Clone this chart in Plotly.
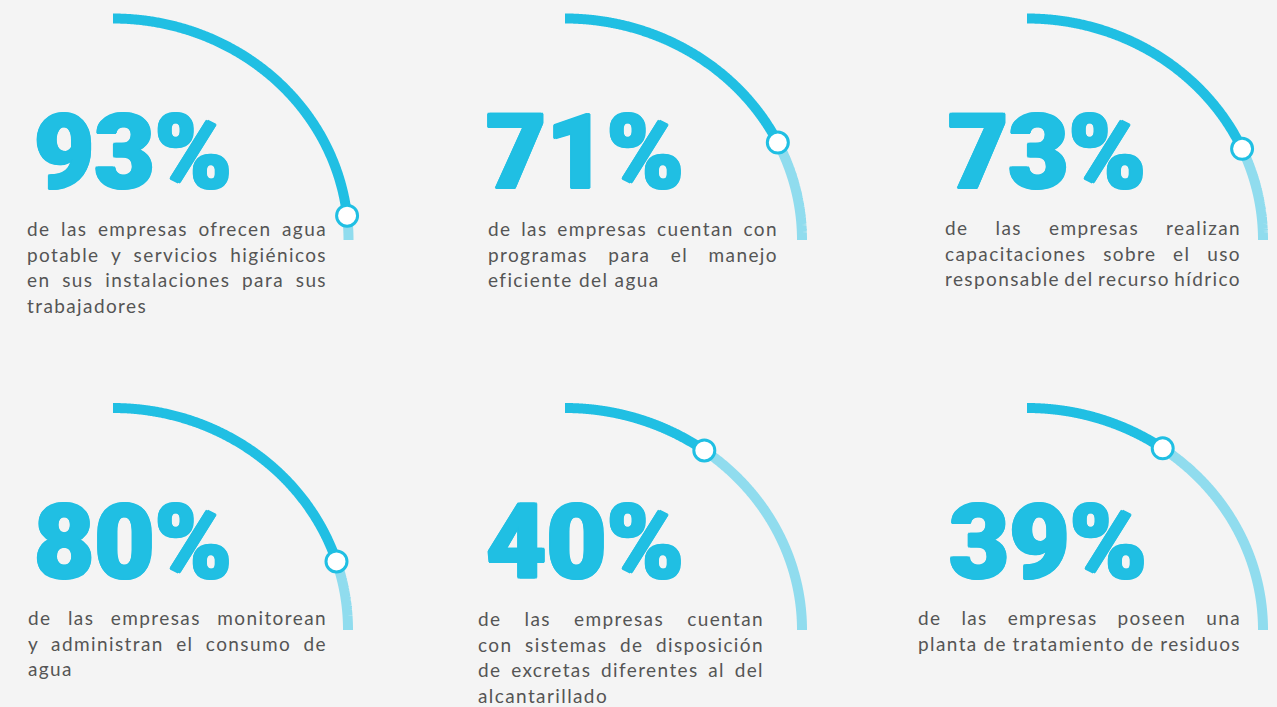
import json
import numpy as np
import plotly.graph_objects as go

W, H = 1277, 707

# values shown in the six gauges
percent = [93, 71, 73, 80, 40, 39]
labels = ['93%', '71%', '73%', '80%', '40%', '39%']
descriptions = [
    ['de las empresas ofrecen agua', 'potable y servicios higiénicos',
     'en sus instalaciones para sus', 'trabajadores'],
    ['de las empresas cuentan con', 'programas para el manejo',
     'eficiente del agua'],
    ['de las empresas realizan', 'capacitaciones sobre el uso',
     'responsable del recurso hídrico'],
    ['de las empresas monitorean', 'y administran el consumo de', 'agua'],
    ['de las empresas cuentan', 'con sistemas de disposición',
     'de excretas diferentes al del', 'alcantarillado'],
    ['de las empresas poseen una', 'planta de tratamiento de residuos'],
]

# panel placement (pixels)
arc_cx = [113, 565, 1027, 113, 565, 1027]
arc_cy = [240, 240, 240, 630, 630, 630]
arc_rx = [235.5, 237, 236, 235, 237, 236]
arc_ry = [221.5, 221.5, 221.5, 222, 222, 222]
num_x = [31, 483, 945, 31, 483, 946]
num_base = [188, 188, 188, 578, 578, 578]
txt_left = [26, 487, 944, 27, 477, 917]
txt_right = [326, 777, 1240, 326, 763, 1240]
txt_base = [236, 236, 235, 625, 626, 625]

DARK = '#20bfe3'
LIGHT = '#90dcee'
TEXT = '#555555'
NUM_FS = 104
TXT_FS = 19
LINE_H = 25.6
PAD = 12

def px(x):
    return x / W

def py(y):
    return 1 - y / H

# heavier look for the big numbers
bold_shadow = ', '.join(f'{dx}px {dy}px 0 {DARK}' for dx, dy in
                        [(1.6, 0), (-1.6, 0), (1, 0.8), (-1, -0.8), (1, -0.8), (-1, 0.8)])

fig = go.Figure()
annotations = []
justify = []  # [annotation index, target width]

for i, p in enumerate(percent):
    n = i + 1
    xa, ya = f'x{n}', f'y{n}'
    split = 90 * (1 - p / 100)
    t_dark = np.radians(np.linspace(90, split, 300))
    t_light = np.radians(np.linspace(split, 0, 300))
    fig.add_trace(go.Scatter(x=np.cos(t_light), y=np.sin(t_light), mode='lines',
                             line=dict(color=LIGHT, width=10, simplify=False),
                             xaxis=xa, yaxis=ya))
    fig.add_trace(go.Scatter(x=np.cos(t_dark), y=np.sin(t_dark), mode='lines',
                             line=dict(color=DARK, width=10, simplify=False),
                             xaxis=xa, yaxis=ya))
    fig.add_trace(go.Scatter(x=[np.cos(np.radians(split))], y=[np.sin(np.radians(split))],
                             mode='markers', cliponaxis=False,
                             marker=dict(size=21, color='white', line=dict(color=DARK, width=3)),
                             xaxis=xa, yaxis=ya))

    cx, cy, rx, ry = arc_cx[i], arc_cy[i], arc_rx[i], arc_ry[i]
    fig.update_layout({
        f'xaxis{n}': dict(domain=[px(cx - PAD), px(cx + rx + PAD)],
                          range=[-PAD / rx, 1 + PAD / rx], visible=False,
                          anchor=ya, fixedrange=True),
        f'yaxis{n}': dict(domain=[py(cy + PAD), py(cy - ry - PAD)],
                          range=[-PAD / ry, 1 + PAD / ry], visible=False,
                          anchor=xa, fixedrange=True),
    })

    # big number
    annotations.append(dict(text=labels[i], xref='paper', yref='paper',
                            x=px(num_x[i] + 1), y=py(num_base[i] - 0.34 * NUM_FS),
                            xanchor='left', yanchor='middle', align='left', showarrow=False,
                            font=dict(family='Roboto', size=NUM_FS, weight=900, color=DARK,
                                      shadow=bold_shadow)))
    # description, one annotation per line
    lines = descriptions[i]
    for k, line in enumerate(lines):
        base = txt_base[i] + k * LINE_H
        annotations.append(dict(text=line, xref='paper', yref='paper',
                                x=px(txt_left[i]), y=py(base - 0.387 * TXT_FS),
                                xanchor='left', yanchor='middle', align='left',
                                showarrow=False, borderpad=0,
                                font=dict(family='Lato', size=TXT_FS, color=TEXT)))
        short_last = k == len(lines) - 1 and len(line) < 25
        justify.append([len(annotations) - 1, 0 if short_last else txt_right[i] - txt_left[i]])

fig.update_layout(
    width=W, height=H,
    margin=dict(l=0, r=0, t=0, b=0),
    paper_bgcolor='#f4f4f4',
    plot_bgcolor='rgba(0,0,0,0)',
    showlegend=False,
    hovermode=False,
    annotations=annotations,
)

# page without body margin; justified text spreads the words across the column
post = """
document.body.style.margin = '0';
document.body.style.background = '#f4f4f4';
var gd = document.getElementById('{plot_id}');
var J = %s;
J.forEach(function(j) {
  var t = gd.querySelector('.annotation[data-index="' + j[0] + '"] text.annotation-text');
  if (!t) return;
  t.style.letterSpacing = '1.4px';
  var n = (t.textContent.match(/ /g) || []).length;
  if (j[1] > 0 && n > 0) {
    var w = t.getComputedTextLength();
    t.style.wordSpacing = ((j[1] - w) / n) + 'px';
  }
});
""" % json.dumps(justify)

fig.write_html('out.html', post_script=post, config={'displayModeBar': False})
